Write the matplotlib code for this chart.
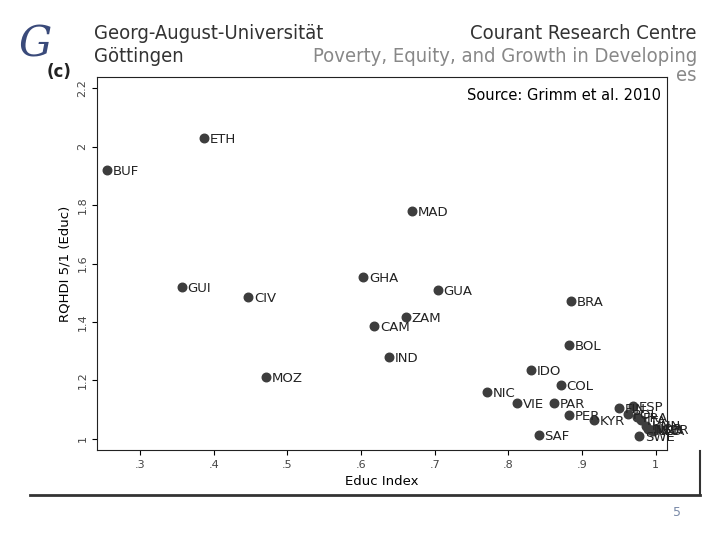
import matplotlib

matplotlib.use("Agg")
import matplotlib.pyplot as plt

# Country codes, education index, RQHDI 5/1 (Educ)
codes = ["BUF", "ETH", "MAD", "GHA", "GUI", "GUA", "CIV", "BRA", "ZAM", "CAM",
         "BOL", "IND", "MOZ", "IDO", "COL", "NIC", "VIE", "PAR", "PER", "KYR", "SAF",
         "FIN", "ESP", "POL", "FRA", "ITA", "HUN", "NOR", "NLD", "USA", "GBR", "SWE"]
educ = [0.255, 0.387, 0.669, 0.603, 0.357, 0.704, 0.447, 0.885, 0.661, 0.618,
        0.882, 0.638, 0.471, 0.831, 0.871, 0.771, 0.812, 0.862, 0.882, 0.916, 0.841,
        0.950, 0.969, 0.962, 0.975, 0.980, 0.987, 0.990, 0.993, 0.996, 0.999, 0.978]
rqhdi = [1.92, 2.03, 1.78, 1.554, 1.52, 1.51, 1.485, 1.47, 1.417, 1.386,
         1.32, 1.28, 1.212, 1.236, 1.185, 1.16, 1.123, 1.123, 1.082, 1.065, 1.014,
         1.105, 1.113, 1.085, 1.075, 1.065, 1.045, 1.035, 1.03, 1.028, 1.032, 1.01]

xticks = [0.3, 0.4, 0.5, 0.6, 0.7, 0.8, 0.9, 1.0]
xticklabels = [".3", ".4", ".5", ".6", ".7", ".8", ".9", "1"]
yticks = [1.0, 1.2, 1.4, 1.6, 1.8, 2.0, 2.2]
yticklabels = ["1", "1.2", "1.4", "1.6", "1.8", "2", "2.2"]

HEAD = dict(fontsize=14.5, fontstretch="condensed", family="DejaVu Sans")

fig = plt.figure(figsize=(7.2, 5.4), dpi=100)
fig.patch.set_facecolor("white")

# slide header
fig.text(0.13, 0.927, "Georg-August-Universität", color="#333333", **HEAD)
fig.text(0.13, 0.885, "Göttingen", color="#333333", **HEAD)
fig.text(0.968, 0.927, "Courant Research Centre", color="#333333", ha="right", **HEAD)
fig.text(0.968, 0.885, "Poverty, Equity, and Growth in Developing",
         color="#888888", ha="right", **HEAD)
fig.text(0.968, 0.85, "es", color="#888888", ha="right", **HEAD)
fig.text(0.025, 0.895, "G", fontsize=30, color="#3a4a7a", family="DejaVu Serif",
         style="italic")
fig.text(0.065, 0.858, "(c)", fontsize=12, fontweight="bold", color="#222222")
fig.text(0.935, 0.045, "5", fontsize=9, color="#7a8aa8")
fig.add_artist(plt.Line2D([0.042, 0.972], [0.083, 0.083], color="#333333", lw=2))
fig.add_artist(plt.Line2D([0.972, 0.972], [0.083, 0.165], color="#333333", lw=1.5))

ax = fig.add_axes([0.135, 0.167, 0.791, 0.69])
ax.scatter(educ, rqhdi, s=38, color="#3d3d3d", zorder=3)
for c, x, y in zip(codes, educ, rqhdi):
    ax.annotate(c, (x, y), xytext=(4, -1), textcoords="offset points",
                fontsize=9.5, color="#222222", va="center")

ax.set_xlim(0.2417, 1.015)
ax.set_ylim(0.962, 2.238)
ax.set_xticks(xticks)
ax.set_xticklabels(xticklabels, fontsize=8, color="#444444")
ax.set_yticks(yticks)
ax.set_yticklabels(yticklabels, fontsize=8, rotation=90, va="center", color="#444444")
ax.set_xlabel("Educ Index", fontsize=9.5)
ax.set_ylabel("RQHDI 5/1 (Educ)", fontsize=9.5)
ax.text(0.82, 0.95, "Source: Grimm et al. 2010", transform=ax.transAxes,
        ha="center", va="center", fontsize=10.5)
for sp in ax.spines.values():
    sp.set_color("#222222")

fig.savefig("out.png", dpi=100)
